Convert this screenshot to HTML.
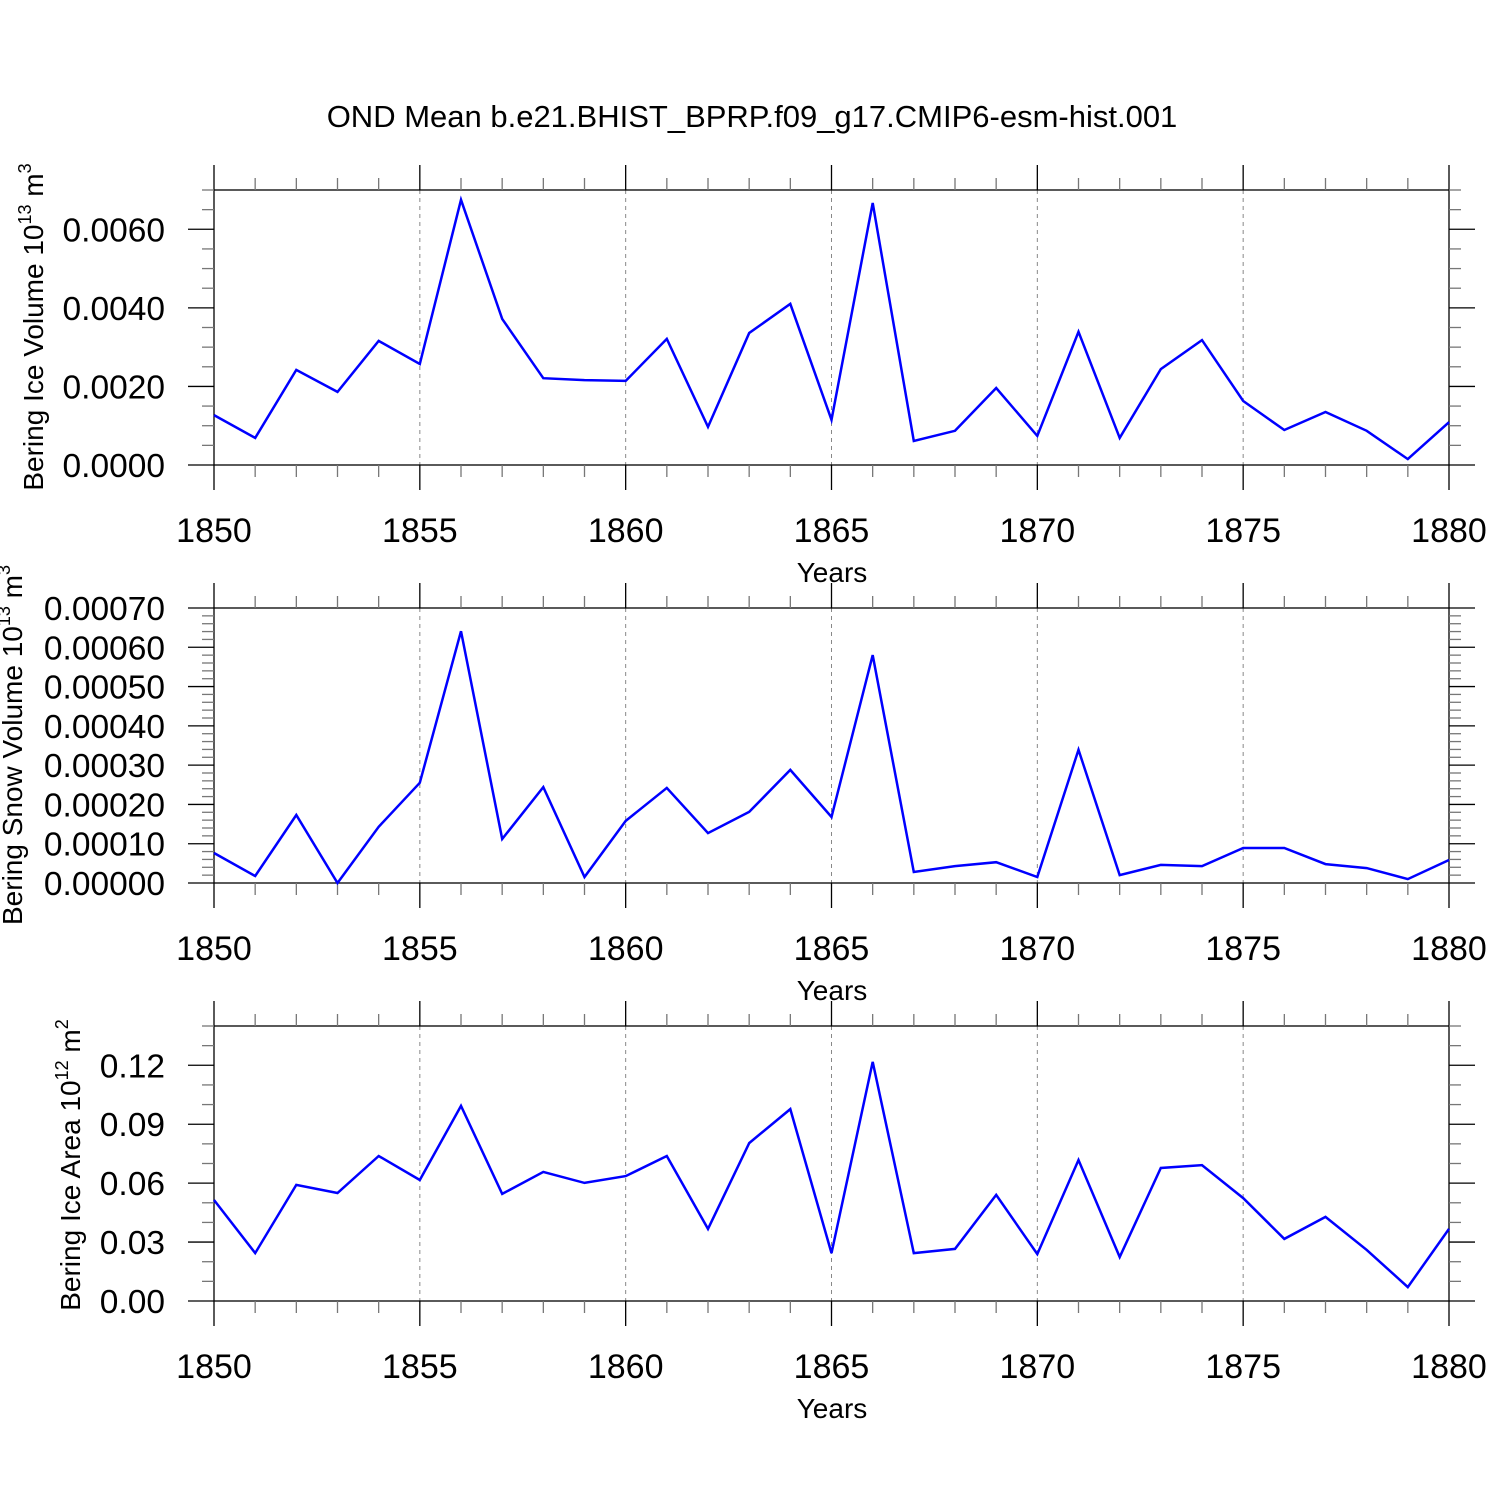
<!DOCTYPE html>
<html><head><meta charset="utf-8"><style>
html,body{margin:0;padding:0;background:#fff;}
svg{display:block;font-family:"Liberation Sans",sans-serif;}
</style></head><body>
<svg id="chart" width="1500" height="1500" viewBox="0 0 1500 1500" xmlns="http://www.w3.org/2000/svg">
<rect width="1500" height="1500" fill="#fff"/>
<text x="752" y="127" font-size="31" text-anchor="middle">OND Mean b.e21.BHIST_BPRP.f09_g17.CMIP6-esm-hist.001</text>
</svg>
<script>
const years = [1850,1851,1852,1853,1854,1855,1856,1857,1858,1859,1860,1861,1862,1863,1864,1865,1866,1867,1868,1869,1870,1871,1872,1873,1874,1875,1876,1877,1878,1879,1880];
const iceVolume = [0.00127,0.00069,0.00242,0.00186,0.00316,0.00257,0.00675,0.00372,0.00221,0.00216,0.00214,0.00321,0.00097,0.00336,0.0041,0.00115,0.00667,0.00061,0.00087,0.00196,0.00074,0.00339,0.00069,0.00244,0.00318,0.00163,0.00089,0.00135,0.00087,0.00015,0.00109];
const snowVolume = [0.0000764,0.0000178,0.000173,0.0,0.000143,0.000255,0.000641,0.000112,0.000244,0.0000153,0.000158,0.000242,0.000127,0.000181,0.000288,0.000168,0.00058,0.000028,0.000043,0.000053,0.0000153,0.000339,0.00002,0.000046,0.000043,0.000089,0.000089,0.000048,0.000038,0.00001,0.0000585];
const iceArea = [0.0514,0.0244,0.0591,0.055,0.0738,0.0616,0.0993,0.0545,0.0657,0.0601,0.0636,0.0738,0.0367,0.0804,0.0977,0.0244,0.1217,0.0244,0.0265,0.054,0.0239,0.0718,0.0224,0.0677,0.0692,0.0524,0.0316,0.0428,0.026,0.0071,0.0367];
const xTickLabels = ["1850","1855","1860","1865","1870","1875","1880"];
const iceVolTicks = ["0.0000","0.0020","0.0040","0.0060"];
const snowTicks = ["0.00000","0.00010","0.00020","0.00030","0.00040","0.00050","0.00060","0.00070"];
const areaTicks = ["0.00","0.03","0.06","0.09","0.12"];

const svg = document.getElementById('chart');
const NS = 'http://www.w3.org/2000/svg';
function mk(tag, attrs, parent){const e=document.createElementNS(NS,tag);for(const k in attrs)e.setAttribute(k,attrs[k]);(parent||svg).appendChild(e);return e;}
const X0=214,X1=1449;
function xs(v){return X0+(v-1850)/30*(X1-X0);}

const panels = [
 {top:190,bot:465,max:0.007,data:iceVolume,ticks:iceVolTicks,major:0.002,minor:0.0005,name:'ice-volume',title:'Bering Ice Volume 10',sup:'13',unit:' m',sup2:'3',tx:43,ty:327},
 {top:608,bot:883,max:0.0007,data:snowVolume,ticks:snowTicks,major:0.0001,minor:0.00002,name:'snow-volume',title:'Bering Snow Volume 10',sup:'13',unit:' m',sup2:'3',tx:22,ty:745},
 {top:1026,bot:1301,max:0.14,data:iceArea,ticks:areaTicks,major:0.03,minor:0.01,name:'ice-area',title:'Bering Ice Area 10',sup:'12',unit:' m',sup2:'2',tx:80,ty:1165}
];

panels.forEach(p=>{
  const g=mk('g',{});
  
  
  const ys=v=>p.bot-v/p.max*(p.bot-p.top);
  for(let yr=1855;yr<=1875;yr+=5){
    const l=mk('line',{x1:xs(yr),x2:xs(yr),y1:p.top,y2:p.bot,stroke:'#888','stroke-width':1,'stroke-dasharray':'4,4'},g);
    
    
  }
  const f=mk('rect',{x:X0,y:p.top,width:X1-X0,height:p.bot-p.top,fill:'none',stroke:'#000','stroke-width':1.3},g);
  
  
  for(let yr=1850;yr<=1880;yr++){
    const maj=(yr%5===0);const L=maj?25:12;const x=xs(yr);
    mk('line',{x1:x,x2:x,y1:p.top,y2:p.top-L,stroke:maj?'#000':'#777','stroke-width':1.3},g);
    mk('line',{x1:x,x2:x,y1:p.bot,y2:p.bot+L,stroke:maj?'#000':'#777','stroke-width':1.3},g);
  }
  xTickLabels.forEach(t=>{
    const tx=mk('text',{x:xs(+t),y:p.bot+77,'font-size':34,'text-anchor':'middle'},g);
    tx.textContent=t;
    
    
  });
  const xt=mk('text',{x:832,y:p.bot+117,'font-size':28,'text-anchor':'middle'},g);
  xt.textContent='Years';
  
  
  const nMinor=Math.round(p.max/p.minor);
  const per=Math.round(p.major/p.minor);
  for(let i=0;i<=nMinor;i++){
    const v=i*p.minor;const y=ys(v);const maj=(i%per===0);const L=maj?26:12;
    mk('line',{x1:X0,x2:X0-L,y1:y,y2:y,stroke:maj?'#000':'#777','stroke-width':1.3},g);
    mk('line',{x1:X1,x2:X1+L,y1:y,y2:y,stroke:maj?'#000':'#777','stroke-width':1.3},g);
  }
  p.ticks.forEach(t=>{
    const tx=mk('text',{x:165,y:ys(parseFloat(t))+12,'font-size':33.5,'text-anchor':'end'},g);
    tx.textContent=t;
    
    
  });
  const yt=mk('text',{x:0,y:0,'font-size':28,'text-anchor':'middle',transform:`translate(${p.tx},${p.ty}) rotate(-90)`},g);
  
  
  const t1=mk('tspan',{},yt);t1.textContent=p.title;
  const t2=mk('tspan',{'font-size':18,dy:-12},yt);t2.textContent=p.sup;
  const t3=mk('tspan',{dy:12},yt);t3.textContent=p.unit;
  const t4=mk('tspan',{'font-size':18,dy:-12},yt);t4.textContent=p.sup2;
  const pts=p.data.map((v,i)=>xs(years[i]).toFixed(1)+','+ys(v).toFixed(1)).join(' ');
  const pl=mk('polyline',{points:pts,fill:'none',stroke:'#0000ff','stroke-width':2.5,'stroke-linejoin':'miter'},g);
  
  
});
</script>
</body></html>
